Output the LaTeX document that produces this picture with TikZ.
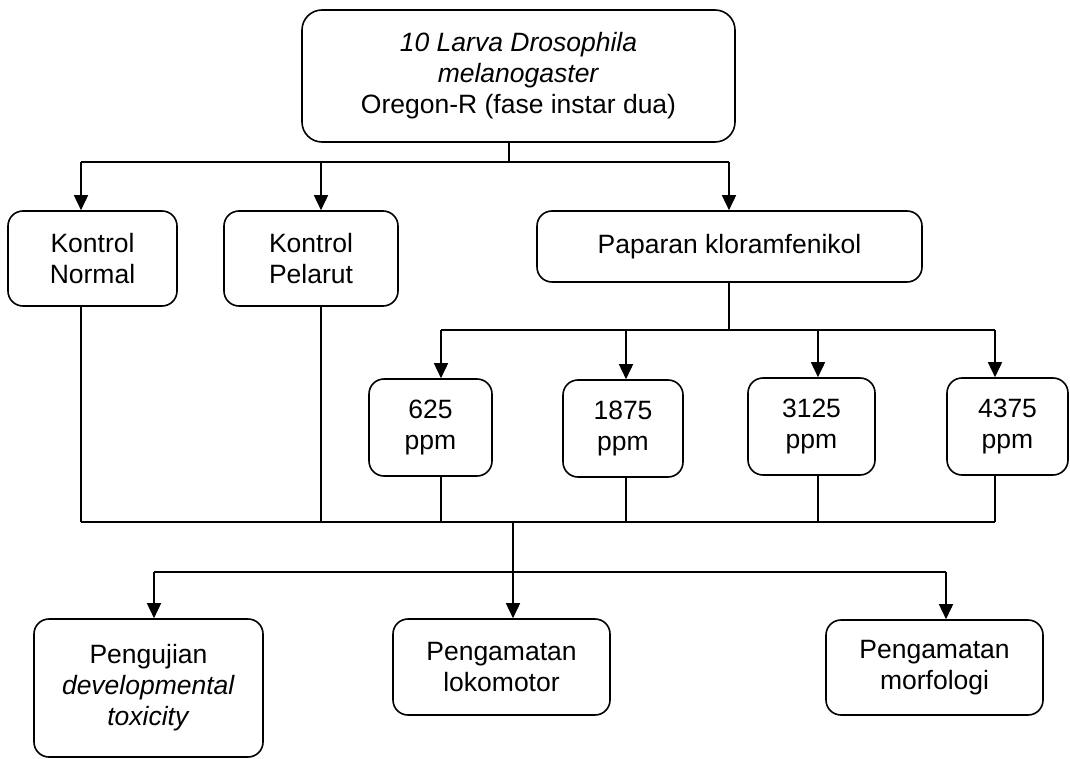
\documentclass[tikz,border=0pt]{standalone}
\usepackage{fontspec}
\setmainfont{Liberation Sans}
\usetikzlibrary{arrows.meta,positioning}
\tikzset{
  box/.style={draw,line width=1.6pt,rounded corners=15pt,align=center,inner sep=0pt},
  ln/.style={line width=1.6pt},
  bus/.style={line width=2.4pt},
  arr/.style={line width=1.6pt,-{Triangle[length=15pt,width=14pt]}}
}
\begin{document}
\begin{tikzpicture}[x=1pt,y=-1pt,font=\fontsize{26.5}{31}\selectfont]
\useasboundingbox (0,0) rectangle (1070,759);
% boxes
\node[box,rounded corners=20pt,minimum width=433pt,minimum height=132pt] (larva) at (518.5,76)
  {\textit{10 Larva Drosophila}\\\textit{melanogaster}\\Oregon-R (fase instar dua)};
\node[box,minimum width=169pt,minimum height=95pt] (normal) at (92.5,258.5) {Kontrol\\Normal};
\node[box,minimum width=174pt,minimum height=95pt] (pelarut) at (311,258.5) {Kontrol\\Pelarut};
\node[box,minimum width=385pt,minimum height=71pt] (papar) at (729.5,246.5) {Paparan kloramfenikol};
\node[box,minimum width=123pt,minimum height=97pt] (d625) at (430.5,427.5) {625\\ppm};
\node[box,minimum width=120pt,minimum height=97pt] (d1875) at (623,428.5) {1875\\ppm};
\node[box,minimum width=127pt,minimum height=97pt] (d3125) at (811.5,426.5) {3125\\ppm};
\node[box,minimum width=121pt,minimum height=97pt] (d4375) at (1007.5,426.5) {4375\\ppm};
\node[box,minimum width=229pt,minimum height=138pt] (uji) at (148.5,688)
  {Pengujian\\\textit{developmental}\\\textit{toxicity}};
\node[box,minimum width=217pt,minimum height=96pt] (loko) at (501.5,667) {Pengamatan\\lokomotor};
\node[box,minimum width=217pt,minimum height=95pt] (morfo) at (934.5,667.5) {Pengamatan\\morfologi};
% junctions
\coordinate (j1) at (509,162);
\coordinate (a1) at (81,162);
\coordinate (a2) at (321,162);
\coordinate (a3) at (729,162);
\coordinate (j2) at (729,330);
\coordinate (t1) at (441,330);
\coordinate (t2) at (626,330);
\coordinate (t3) at (818,330);
\coordinate (t4) at (995,330);
\coordinate (j3) at (513,522);
\coordinate (j4) at (513,572);
\coordinate (b1) at (154,572);
\coordinate (b3) at (946,572);
% top level
\draw[ln] (larva.south -| j1) -- (j1);
\draw[ln] (a1) -- (a3);
\draw[arr] (a1) -- (normal.north -| a1);
\draw[arr] (a2) -- (pelarut.north -| a2);
\draw[arr] (a3) -- (papar.north -| a3);
% doses
\draw[ln] (papar.south -| j2) -- (j2);
\draw[bus] (t1) -- (t4);
\draw[arr] (t1) -- (d625.north -| t1);
\draw[arr] (t2) -- (d1875.north -| t2);
\draw[arr] (t3) -- (d3125.north -| t3);
\draw[arr] (t4) -- (d4375.north -| t4);
% collect
\draw[ln] (normal.south -| a1) -- (a1 |- j3);
\draw[ln] (pelarut.south -| a2) -- (a2 |- j3);
\draw[ln] (d625.south -| t1) -- (t1 |- j3);
\draw[ln] (d1875.south -| t2) -- (t2 |- j3);
\draw[ln] (d3125.south -| t3) -- (t3 |- j3);
\draw[ln] (d4375.south -| t4) -- (t4 |- j3);
\draw[bus] (a1 |- j3) -- (t4 |- j3);
% observations
\draw[arr] (j3) -- (loko.north -| j3);
\draw[ln] (b1) -- (b3);
\draw[arr] (b1) -- (uji.north -| b1);
\draw[arr] (b3) -- (morfo.north -| b3);
\end{tikzpicture}
\end{document}
